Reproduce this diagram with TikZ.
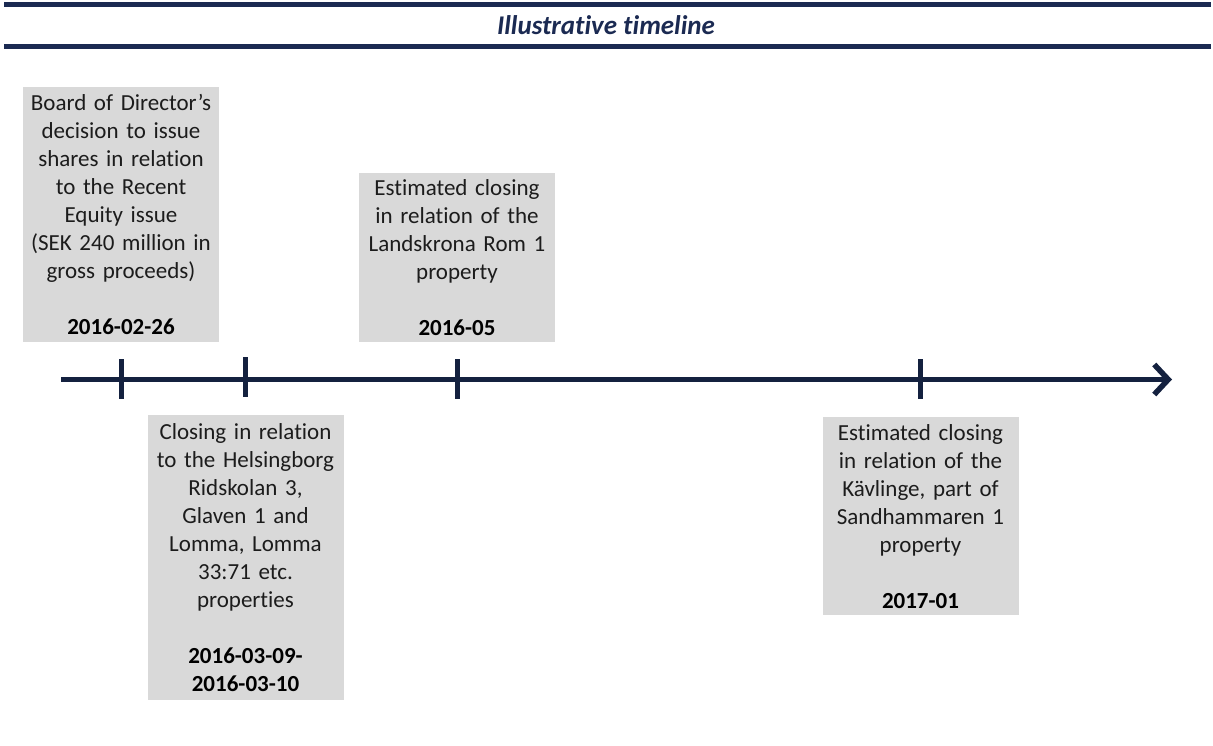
\documentclass[tikz,border=0pt]{standalone}
\usepackage{fontspec}
\setmainfont{Carlito}[Ligatures=NoCommon]
\usetikzlibrary{arrows.meta,positioning}
\definecolor{navy}{HTML}{1B2A52}
\definecolor{axisblue}{HTML}{14213F}
\definecolor{boxgray}{HTML}{D9D9D9}
\definecolor{boxtext}{HTML}{1C1C1C}

\tikzset{
  event/.style={fill=boxgray, text=boxtext, text width=190pt, align=center,
    inner xsep=3pt, inner ysep=0pt, font=\fontsize{23}{28}\selectfont},
  titlebar/.style={draw=navy, line width=5pt},
  ticksign/.style={draw=axisblue, line width=5pt}
}
\newcommand{\evdate}[1]{\textcolor{black}{\bfseries #1}}

\begin{document}
\begin{tikzpicture}[x=1pt,y=-1pt]

    %\draw[step=50,help lines] (0,0) grid (1213,746);
    \useasboundingbox (0,0) rectangle (1213,746);

    \draw[titlebar] (4,5) -- (1211,5);
    \draw[titlebar] (4,46.5) -- (1211,46.5);
    \node[text=navy, font=\fontsize{27}{32}\selectfont\bfseries\itshape] (title) at (606,25) {Illustrative timeline};

    \coordinate (axis_start) at (61,379.5);
    \coordinate (axis_end) at (1172,379.5);
    \coordinate (tick_1) at (121,379);
    \coordinate (tick_2) at (245.5,377);
    \coordinate (tick_3) at (457,379);
    \coordinate (tick_4) at (920.5,379);

    \draw[draw=axisblue, line width=5.5pt, -{Straight Barb[length=14pt,width=30pt]}] (axis_start) -- (axis_end);
    \foreach \t in {1,...,4}
        \draw[ticksign] (tick_\t) ++(0,-20) -- ++(0,40);

    \node[event, anchor=south, minimum height=255pt, above=37pt of tick_1] (board_box)
        {Board of Director’s\\decision to issue\\shares in relation\\to the Recent\\Equity issue\\(SEK 240 million in\\gross proceeds)\\[28pt]\evdate{2016-02-26}};
    \node[event, anchor=north, minimum height=285pt, below=38pt of tick_2] (closing_box)
        {Closing in relation\\to the Helsingborg\\Ridskolan 3,\\Glaven 1 and\\Lomma, Lomma\\33:71 etc.\\properties\\[28pt]\evdate{2016-03-09-}\\\evdate{2016-03-10}};
    \node[event, anchor=south, minimum height=169pt, above=37pt of tick_3] (landskrona_box)
        {Estimated closing\\in relation of the\\Landskrona Rom 1\\property\\[28pt]\evdate{2016-05}};
    \node[event, anchor=north, minimum height=198pt, below=38pt of tick_4] (kavlinge_box)
        {Estimated closing\\in relation of the\\Kävlinge, part of\\Sandhammaren 1\\property\\[28pt]\evdate{2017-01}};

\end{tikzpicture}
\end{document}
